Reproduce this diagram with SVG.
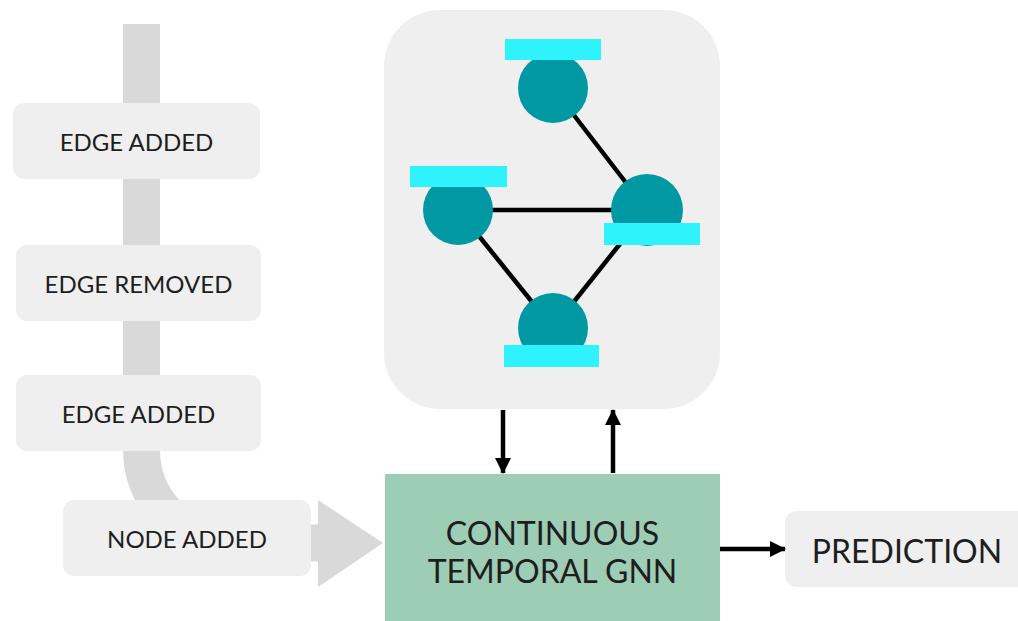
<svg xmlns="http://www.w3.org/2000/svg" width="1018" height="621" viewBox="0 0 1018 621">
  <defs>
    <style>
      .event rect { fill: #efefef; }
      .label { font-family: Lato, "Liberation Sans", sans-serif; fill: #1e1e1e; text-anchor: middle; dominant-baseline: central; }
      .ev { font-size: 24px; }
      .big { font-size: 32px; }
      .edge { stroke: #000; stroke-width: 4.5; }
      .vertex { fill: #0099a3; }
      .feat { fill: #2ef3fd; }
      .flow { stroke: #000; stroke-width: 4.5; fill: none; }
    </style>
    <marker id="head" viewBox="0 0 16 16" refX="15" refY="8" markerWidth="16" markerHeight="16" orient="auto" markerUnits="userSpaceOnUse">
      <path d="M0,0 L16,8 L0,16 z" fill="#000"/>
    </marker>
  </defs>
  <rect width="1018" height="621" fill="#ffffff"/>

  <!-- event stream: thick timeline bending into the model -->
  <g id="timeline">
    <path d="M141.5,24 V450 A93,93 0 0 0 234.5,543 H320" fill="none" stroke="#d9d9d9" stroke-width="37"/>
    <polygon points="318,500 383,543 318,587" fill="#d9d9d9"/>
  </g>

  <g id="event-edge-added-1" class="event">
    <rect x="13" y="103" width="247" height="76" rx="11"/>
    <text class="label ev" x="136.5" y="141">EDGE ADDED</text>
  </g>
  <g id="event-edge-removed" class="event">
    <rect x="16" y="245" width="245" height="76" rx="11"/>
    <text class="label ev" x="138.5" y="283">EDGE REMOVED</text>
  </g>
  <g id="event-edge-added-2" class="event">
    <rect x="16" y="375" width="245" height="76" rx="11"/>
    <text class="label ev" x="138.5" y="413">EDGE ADDED</text>
  </g>
  <g id="event-node-added" class="event">
    <rect x="63" y="500" width="248" height="76" rx="11"/>
    <text class="label ev" x="187" y="538">NODE ADDED</text>
  </g>

  <!-- graph state panel -->
  <g id="graph-panel">
    <rect x="384" y="10" width="336" height="399" rx="56" fill="#efefef"/>
    <g id="graph-edges">
      <line class="edge" x1="553" y1="88" x2="647" y2="210"/>
      <line class="edge" x1="458" y1="210" x2="647" y2="210"/>
      <line class="edge" x1="458" y1="210" x2="553" y2="328"/>
      <line class="edge" x1="647" y1="210" x2="553" y2="328"/>
    </g>
    <g id="vertex-top">
      <circle class="vertex" cx="553" cy="88" r="35"/>
      <rect class="feat" x="505" y="39" width="96" height="21"/>
    </g>
    <g id="vertex-left">
      <circle class="vertex" cx="458" cy="210" r="35"/>
      <rect class="feat" x="410" y="166" width="97" height="21"/>
    </g>
    <g id="vertex-right">
      <circle class="vertex" cx="647" cy="210" r="36"/>
      <rect class="feat" x="604" y="223" width="96" height="22"/>
    </g>
    <g id="vertex-bottom">
      <circle class="vertex" cx="553" cy="328" r="35"/>
      <rect class="feat" x="504" y="345" width="95" height="22"/>
    </g>
  </g>

  <g id="model">
    <rect x="385" y="474" width="335" height="150" fill="#9dcdb4"/>
    <text class="label big" x="552.5" y="532">CONTINUOUS</text>
    <text class="label big" x="552.5" y="570">TEMPORAL GNN</text>
  </g>

  <g id="prediction">
    <rect x="785" y="511" width="245" height="76" rx="12" fill="#efefef"/>
    <text class="label big" x="907" y="550">PREDICTION</text>
  </g>

  <!-- connectors -->
  <g id="connectors">
    <line class="flow" x1="503" y1="410" x2="503" y2="473" marker-end="url(#head)"/>
    <line class="flow" x1="613" y1="473" x2="613" y2="410" marker-end="url(#head)"/>
    <line class="flow" x1="720" y1="549" x2="785" y2="549" marker-end="url(#head)"/>
  </g>
</svg>
